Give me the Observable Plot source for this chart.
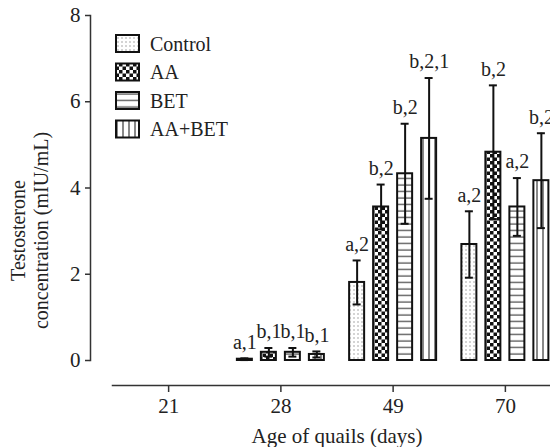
<!DOCTYPE html>
<html>
<head>
<meta charset="utf-8">
<script src="https://cdn.jsdelivr.net/npm/d3@7"></script>
<script src="https://cdn.jsdelivr.net/npm/@observablehq/plot@0.6"></script>
<style>
  html, body { margin: 0; padding: 0; background: #fff; overflow: hidden; }
  #wrap { position: relative; width: 550px; height: 447px; overflow: hidden; font-family: "Liberation Serif", serif; }
  #wrap > svg.plot, #wrap svg[class^="plot"] { max-width: none !important; display: block; }
  #legend { position: absolute; left: 0; top: 0; }
</style>
</head>
<body>
<svg width="0" height="0" style="position:absolute">
  <defs>
    <pattern id="p-dots" patternUnits="userSpaceOnUse" width="4" height="4">
      <rect width="4" height="4" fill="#fff"/>
      <rect x="1.5" y="1.5" width="1" height="1" fill="#555"/>
    </pattern>
    <pattern id="p-check" patternUnits="userSpaceOnUse" width="7" height="7">
      <rect width="7" height="7" fill="#fff"/>
      <rect x="0" y="0" width="3.5" height="3.5" fill="#111"/>
      <rect x="3.5" y="3.5" width="3.5" height="3.5" fill="#111"/>
    </pattern>
    <pattern id="p-hlines" patternUnits="userSpaceOnUse" width="10" height="6.5">
      <rect width="10" height="6.5" fill="#fff"/>
      <line x1="0" x2="10" y1="3" y2="3" stroke="#444" stroke-width="1.2"/>
    </pattern>
    <pattern id="p-vlines" patternUnits="userSpaceOnUse" width="6" height="10">
      <rect width="6" height="10" fill="#fff"/>
      <line x1="3" x2="3" y1="0" y2="10" stroke="#555" stroke-width="1.4"/>
    </pattern>
  </defs>
</svg>
<div id="wrap"></div>
<script>
// ---- data ----
const days = ["21", "28", "49", "70"];
const groups = ["Control", "AA", "BET", "AA+BET"];
const controlMean = [null, 0.03, 1.81, 2.69];
const controlSD   = [null, 0.02, 0.51, 0.77];
const aaMean      = [null, 0.19, 3.56, 4.83];
const aaSD        = [null, 0.10, 0.52, 1.55];
const betMean     = [null, 0.19, 4.33, 3.56];
const betSD       = [null, 0.10, 1.16, 0.67];
const aabetMean   = [null, 0.14, 5.15, 4.17];
const aabetSD     = [null, 0.07, 1.40, 1.10];
const controlLabel = [null, "a,1", "a,2", "a,2"];
const aaLabel      = [null, "b,1", "b,2", "b,2"];
const betLabel     = [null, "b,1", "b,2", "a,2"];
const aabetLabel   = [null, "b,1", "b,2,1", "b,2"];
const yTicks = [0, 2, 4, 6, 8];

// ---- build table ----
const means = [controlMean, aaMean, betMean, aabetMean];
const sds = [controlSD, aaSD, betSD, aabetSD];
const labels = [controlLabel, aaLabel, betLabel, aabetLabel];
const fills = ["url(#p-dots)", "url(#p-check)", "url(#p-hlines)", "url(#p-vlines)"];

const rows = [];
groups.forEach((g, j) => {
  days.forEach((d, i) => {
    if (means[j][i] == null) return;
    rows.push({day: i, gi: j, group: g, mean: means[j][i], sd: sds[j][i], label: labels[j][i]});
  });
});

// layout (in x-data units: one day slot = 1)
const slotPx = 112.25;
const step = 24 / slotPx;
const halfBar = 7.5 / slotPx;
const halfCap = 4 / slotPx;
const xc = d => d.day + (d.gi - 1.5) * step;

const font = "'Liberation Serif', 'Times New Roman', serif";
const marks = [];
groups.forEach((g, j) => {
  marks.push(Plot.rectY(rows.filter(r => r.gi === j), {
    x1: d => xc(d) - halfBar, x2: d => xc(d) + halfBar,
    y1: 0, y2: "mean",
    fill: fills[j], stroke: "#111", strokeWidth: 2
  }));
});
marks.push(
  Plot.ruleX(rows, {x: xc, y1: d => Math.max(0, d.mean - d.sd), y2: d => d.mean + d.sd, stroke: "#111", strokeWidth: 2}),
  Plot.ruleY(rows, {y: d => d.mean + d.sd, x1: d => xc(d) - halfCap, x2: d => xc(d) + halfCap, stroke: "#111", strokeWidth: 2}),
  Plot.ruleY(rows, {y: d => Math.max(0, d.mean - d.sd), x1: d => xc(d) - halfCap, x2: d => xc(d) + halfCap, stroke: "#111", strokeWidth: 2}),
  Plot.text(rows, {x: xc, y: d => d.mean + d.sd, text: "label", dy: -16, fontSize: 20, fontFamily: font, fill: "#222"}),
  Plot.frame({anchor: "left", insetBottom: 25, stroke: "#333", strokeWidth: 1.5}),
  Plot.frame({anchor: "bottom", insetLeft: 22, stroke: "#333", strokeWidth: 1.5}),
  Plot.axisY({ticks: yTicks, tickSize: 5, tickPadding: 5, tickFormat: d => String(d), label: null, fontSize: 21, fontFamily: font, stroke: "#333", strokeWidth: 1.5}),
  Plot.axisX({ticks: [0, 1, 2, 3], tickFormat: i => days[i], tickSize: 7, tickPadding: 6, label: null, fontSize: 21, fontFamily: font, stroke: "#333", strokeWidth: 1.5}),
  Plot.text(["Testosterone\nconcentration (mIU/mL)"], {frameAnchor: "left", textAnchor: "middle", rotate: -90, dx: -61, dy: 30, fontSize: 20, fontFamily: font, lineHeight: 1.15, fill: "#222"}),
  Plot.text(["Age of quails (days)"], {frameAnchor: "bottom", textAnchor: "middle", dx: 11, dy: 57, fontSize: 21, fontFamily: font, fill: "#222"})
);

const chart = Plot.plot({
  width: 561,
  height: 447,
  marginLeft: 90,
  marginRight: 0,
  marginTop: 15,
  marginBottom: 62,
  x: {domain: [-0.5, 3.5], range: [112, 561]},
  y: {domain: [0, 8], range: [360, 15]},
  style: {fontFamily: font, fontSize: "20px", color: "#222", background: "transparent", maxWidth: "none"},
  marks
});
chart.style.maxWidth = "none";
chart.style.height = "447px";
chart.style.width = "561px";
document.getElementById("wrap").appendChild(chart);

// ---- legend overlay ----
const ns = "http://www.w3.org/2000/svg";
const leg = document.createElementNS(ns, "svg");
leg.setAttribute("id", "legend");
leg.setAttribute("width", 260);
leg.setAttribute("height", 150);
groups.forEach((g, j) => {
  const cy = 43.5 + j * 28.5;
  const r = document.createElementNS(ns, "rect");
  r.setAttribute("x", 116); r.setAttribute("y", cy - 8.5);
  r.setAttribute("width", 23); r.setAttribute("height", 17);
  r.setAttribute("fill", fills[j]); r.setAttribute("stroke", "#111"); r.setAttribute("stroke-width", 2);
  leg.appendChild(r);
  const t = document.createElementNS(ns, "text");
  t.setAttribute("x", 150); t.setAttribute("y", cy);
  t.setAttribute("dy", "0.35em");
  t.setAttribute("font-family", font);
  t.setAttribute("font-size", 20);
  t.setAttribute("fill", "#222");
  t.textContent = g;
  leg.appendChild(t);
});
document.getElementById("wrap").appendChild(leg);
</script>
</body>
</html>
